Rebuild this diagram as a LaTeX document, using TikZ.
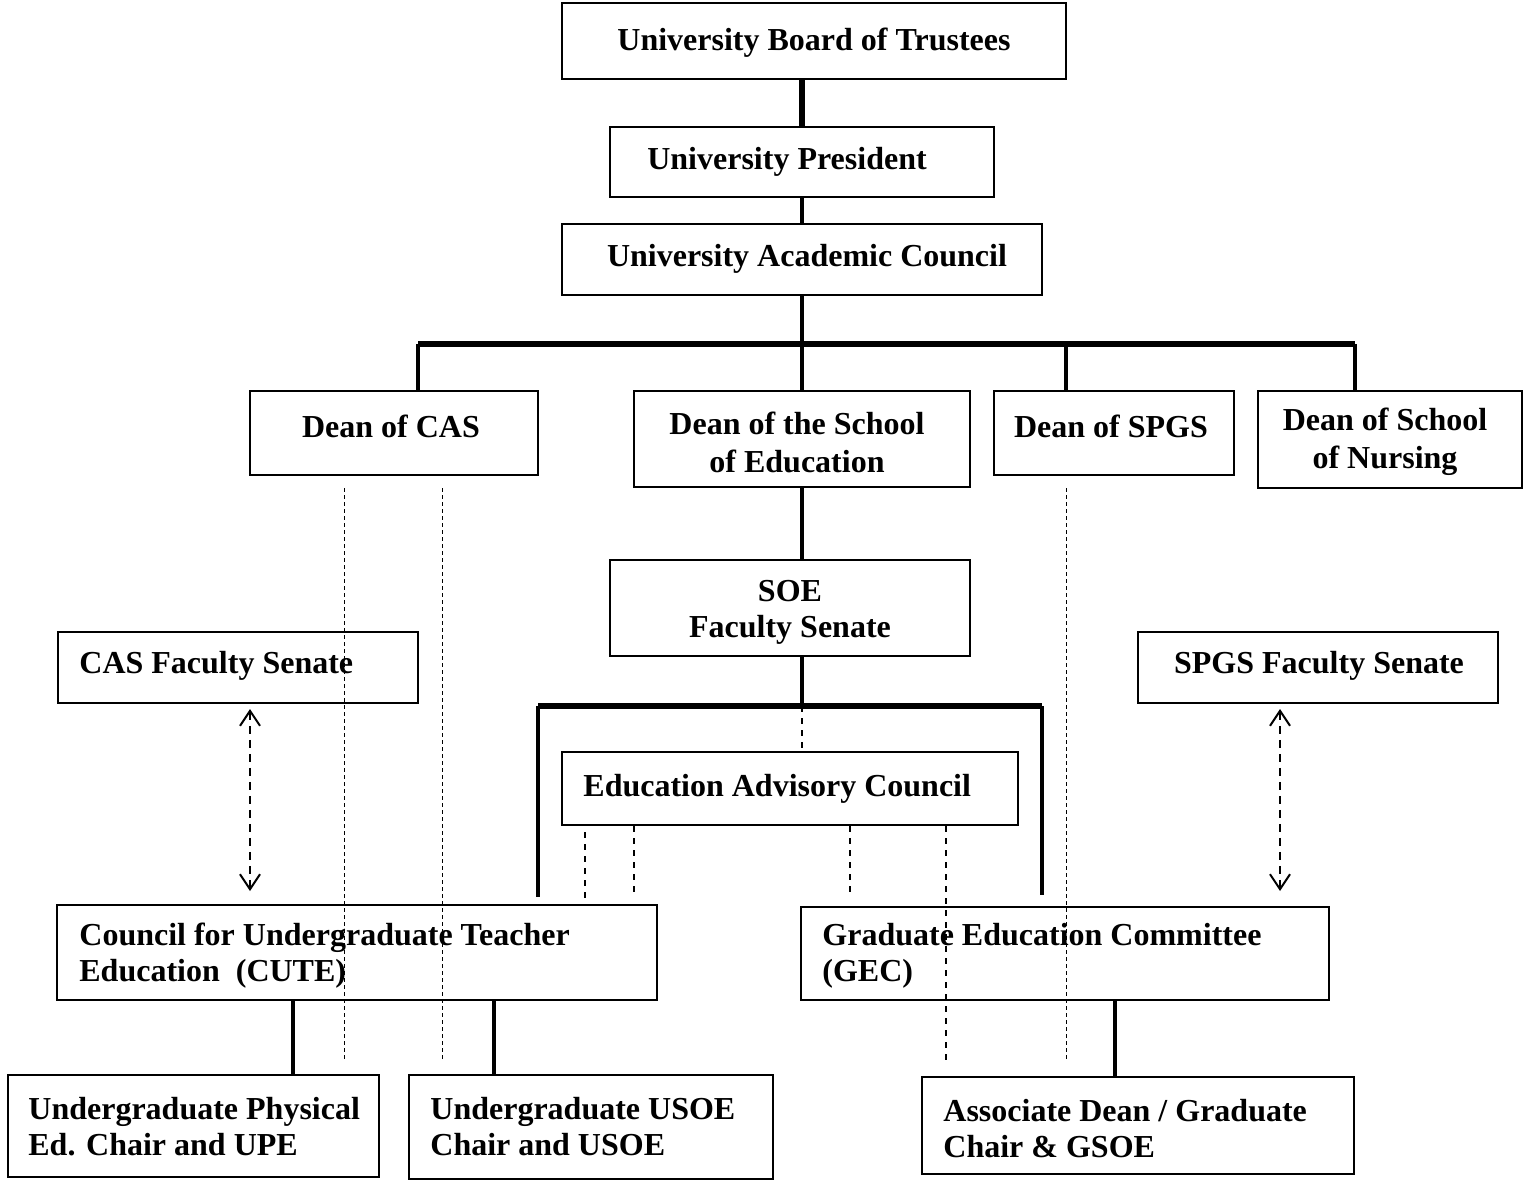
\documentclass[tikz,border=0pt]{standalone}
\usepackage{fontspec}
\setmainfont{Liberation Serif}
\usetikzlibrary{arrows.meta}

\tikzset{
  box/.style={draw, line width=1pt, inner sep=0pt},
  lbl/.style={font=\fontsize{16pt}{18pt}\selectfont\bfseries, inner sep=0pt, align=left},
  clbl/.style={lbl, align=center},
  trunk/.style={line width=3pt},
  branch/.style={line width=2pt},
  advline/.style={line width=0.8pt, dash pattern=on 3pt off 3pt},
  fineline/.style={line width=0.5pt, dash pattern=on 2pt off 1.5pt},
  linkarrow/.style={line width=1pt, dash pattern=on 4pt off 3pt,
    {Straight Barb[length=7.5pt,width=10pt]}-{Straight Barb[length=7.5pt,width=10pt]}},
}

\begin{document}
\begin{tikzpicture}[x=0.5pt,y=-0.5pt]
\useasboundingbox (0,0) rectangle (1531,1180);

% boxes
\node[box, minimum width=252pt, minimum height=38pt]   (trustees)   at (814,41)     {};
\node[box, minimum width=192pt, minimum height=35pt]   (president)  at (802,162)    {};
\node[box, minimum width=240pt, minimum height=35.5pt] (council)    at (802,259.5)  {};
\node[box, minimum width=144pt, minimum height=42pt]   (cas)        at (394,433)    {};
\node[box, minimum width=168pt, minimum height=48pt]   (soedean)    at (802,439)    {};
\node[box, minimum width=120pt, minimum height=42pt]   (spgs)       at (1114,433)   {};
\node[box, minimum width=132pt, minimum height=48.5pt] (nursing)    at (1390,439.5) {};
\node[box, minimum width=180pt, minimum height=48pt]   (soesenate)  at (790,608)    {};
\node[box, minimum width=180pt, minimum height=35.5pt] (cassenate)  at (238,667.5)  {};
\node[box, minimum width=180pt, minimum height=35.5pt] (spgssenate) at (1318,667.5) {};
\node[box, minimum width=228pt, minimum height=36.5pt] (eac)        at (790,788.5)  {};
\node[box, minimum width=300pt, minimum height=47.5pt] (cute)       at (357,952.5)  {};
\node[box, minimum width=264pt, minimum height=46.5pt] (gec)        at (1065,953.5) {};
\node[box, minimum width=185.5pt, minimum height=51pt] (upe)        at (193.5,1126) {};
\node[box, minimum width=182pt, minimum height=52pt]   (usoe)       at (591,1127)   {};
\node[box, minimum width=216pt, minimum height=48.5pt] (assoc)      at (1138,1125.5){};

% labels
\node[clbl] (trusteesT)   at (814,43)   {University Board of Trustees};
\node[clbl] (presidentT)  at (787,162)  {University President};
\node[clbl] (councilT)    at (807,259)  {University Academic Council};
\node[clbl] (casT)        at (391,426)  {Dean of CAS};
\node[clbl] (soedeanT)    at (797,442)  {Dean of the School\\[1pt]of Education};
\node[clbl] (spgsT)       at (1111,426) {Dean of SPGS};
\node[clbl] (nursingT)    at (1385,442) {Dean of School\\[1pt]of Nursing};
\node[clbl] (soesenateT)  at (790,612)  {SOE\\Faculty Senate};
\node[lbl, anchor=west] (cassenateT) at (79,666) {CAS Faculty Senate};
\node[clbl] (spgssenateT) at (1319,666) {SPGS Faculty Senate};
\node[lbl, anchor=west] (eacT)   at (583,789)  {Education Advisory Council};
\node[lbl, anchor=west] (cuteT)  at (79,956)   {Council for Undergraduate Teacher\\Education\ \ (CUTE)};
\node[lbl, anchor=west] (gecT)   at (822,956)  {Graduate Education Committee\\(GEC)};
\node[lbl, anchor=west] (upeT)   at (28,1127)  {Undergraduate Physical\\Ed. Chair and UPE};
\node[lbl, anchor=west] (usoeT)  at (430,1127) {Undergraduate USOE\\Chair and USOE};
\node[lbl, anchor=west] (assocT) at (943,1129) {Associate Dean / Graduate\\Chair \& GSOE};

% top of the tree
\draw[trunk]  (president.north |- trustees.south) -- (president.north);
\draw[branch] (council.north |- president.south) -- (council.north);
\coordinate (busA)    at (802,344);
\coordinate (busCAS)  at (418,344);
\coordinate (busSPGS) at (1066,344);
\coordinate (busNUR)  at (1355,344);
\draw[branch] (council.south) -- (busA);
\draw[trunk]  (busCAS) -- (busNUR);
\draw[branch] (busCAS) -- (busCAS |- cas.north);
\draw[branch] (busA) -- (soedean.north);
\draw[branch] (busSPGS) -- (busSPGS |- spgs.north);
\draw[branch] (busNUR) -- (busNUR |- nursing.north);

% school of education
\draw[branch] (soedean.south) -- (soedean.south |- soesenate.north);
\coordinate (busB)  at (802,706);
\coordinate (busBL) at (538,706);
\coordinate (busBR) at (1042,706);
\draw[branch] (busB |- soesenate.south) -- (busB);
\draw[trunk]  (busBL) -- (busBR);
\draw[branch, shorten >=3.5pt] (busBL) -- (busBL |- cute.north);
\draw[branch, shorten >=5.5pt] (busBR) -- (busBR |- gec.north);
\draw[advline] (busB) -- (busB |- eac.north);

% advisory council links
\coordinate (adv0) at (585,832);
\draw[advline] (adv0) -- (adv0 |- cute.north);
\foreach \x/\y [count=\i] in {634/897, 850/897, 946/1065} {
  \coordinate (adv\i) at (\x,\y);
  \draw[advline] (adv\i |- eac.south) -- (adv\i);
}

% dean links
\coordinate (fine1) at (344,1060);
\coordinate (fine2) at (442,1060);
\coordinate (fine3) at (1066,1060);
\draw[fineline, shorten <=6pt] (fine1 |- cas.south) -- (fine1);
\draw[fineline, shorten <=6pt] (fine2 |- cas.south) -- (fine2);
\draw[fineline, shorten <=6pt] (fine3 |- spgs.south) -- (fine3);

% senate links
\coordinate (lnk1) at (250,0);
\coordinate (lnk2) at (1280,0);
\draw[linkarrow, shorten <=2.5pt, shorten >=6.5pt] (lnk1 |- cassenate.south) -- (lnk1 |- cute.north);
\draw[linkarrow, shorten <=2.5pt, shorten >=7.5pt] (lnk2 |- spgssenate.south) -- (lnk2 |- gec.north);

% committees to chairs
\coordinate (dr1) at (293,0);
\coordinate (dr2) at (494,0);
\coordinate (dr3) at (1115,0);
\draw[branch] (dr1 |- cute.south) -- (dr1 |- upe.north);
\draw[branch] (dr2 |- cute.south) -- (dr2 |- usoe.north);
\draw[branch] (dr3 |- gec.south) -- (dr3 |- assoc.north);
\end{tikzpicture}
\end{document}
